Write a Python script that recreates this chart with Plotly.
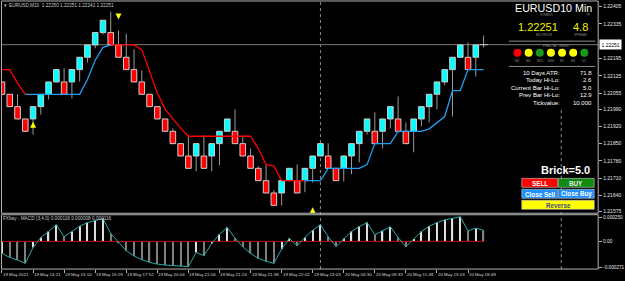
import plotly.graph_objects as go

# ---------------- data ----------------
brick_open = [1.22100, 1.22050, 1.22000, 1.21950, 1.21950, 1.22000, 1.22050, 1.22100, 1.22100, 1.22100,
              1.22150, 1.22200, 1.22250, 1.22300, 1.22300, 1.22250, 1.22200, 1.22150, 1.22100, 1.22050,
              1.22000, 1.21950, 1.21900, 1.21850, 1.21800, 1.21800, 1.21800, 1.21800, 1.21850, 1.21900,
              1.21900, 1.21850, 1.21800, 1.21750, 1.21700, 1.21650, 1.21650, 1.21700, 1.21700, 1.21700,
              1.21750, 1.21800, 1.21800, 1.21750, 1.21750, 1.21800, 1.21850, 1.21900, 1.21900, 1.21900,
              1.21950, 1.21950, 1.21900, 1.21900, 1.21950, 1.22000, 1.22050, 1.22100, 1.22150, 1.22200,
              1.22200, 1.22200, 1.22250]
brick_close = [1.22050, 1.22000, 1.21950, 1.21900, 1.22000, 1.22050, 1.22100, 1.22150, 1.22050, 1.22150,
               1.22200, 1.22250, 1.22300, 1.22350, 1.22250, 1.22200, 1.22150, 1.22100, 1.22050, 1.22000,
               1.21950, 1.21900, 1.21850, 1.21800, 1.21750, 1.21850, 1.21750, 1.21850, 1.21900, 1.21950,
               1.21850, 1.21800, 1.21750, 1.21700, 1.21650, 1.21600, 1.21700, 1.21750, 1.21650, 1.21750,
               1.21800, 1.21850, 1.21750, 1.21700, 1.21800, 1.21850, 1.21900, 1.21950, 1.21850, 1.21950,
               1.22000, 1.21900, 1.21850, 1.21950, 1.22000, 1.22050, 1.22100, 1.22150, 1.22200, 1.22250,
               1.22150, 1.22250, 1.22251]
brick_high = [1.22100, 1.22050, 1.22050, 1.21950, 1.22000, 1.22050, 1.22100, 1.22150, 1.22155, 1.22150,
              1.22200, 1.22250, 1.22300, 1.22350, 1.22385, 1.22308, 1.22296, 1.22232, 1.22147, 1.22050,
              1.22000, 1.21950, 1.21912, 1.21850, 1.21879, 1.21850, 1.21883, 1.21850, 1.21900, 1.21950,
              1.21989, 1.21883, 1.21831, 1.21758, 1.21766, 1.21661, 1.21700, 1.21750, 1.21766, 1.21750,
              1.21800, 1.21850, 1.21851, 1.21750, 1.21800, 1.21850, 1.21900, 1.21950, 1.21977, 1.21950,
              1.22000, 1.22041, 1.21936, 1.21950, 1.22000, 1.22050, 1.22100, 1.22150, 1.22200, 1.22250,
              1.22260, 1.22250, 1.22288]
brick_low = [1.22050, 1.22000, 1.21950, 1.21900, 1.21887, 1.21968, 1.22029, 1.22100, 1.22050, 1.22033,
             1.22102, 1.22179, 1.22236, 1.22292, 1.22250, 1.22200, 1.22150, 1.22100, 1.22050, 1.22000,
             1.21950, 1.21900, 1.21850, 1.21800, 1.21750, 1.21738, 1.21750, 1.21738, 1.21762, 1.21900,
             1.21850, 1.21800, 1.21750, 1.21700, 1.21650, 1.21600, 1.21600, 1.21700, 1.21650, 1.21653,
             1.21693, 1.21800, 1.21750, 1.21700, 1.21697, 1.21726, 1.21774, 1.21887, 1.21850, 1.21831,
             1.21912, 1.21900, 1.21850, 1.21815, 1.21920, 1.21936, 1.21989, 1.22086, 1.21960, 1.22200,
             1.22150, 1.22122, 1.22240]

N = None
red_stop = [1.22150, 1.22150, 1.22095, 1.22050, N, N, N, N, N, N,
            N, N, N, N, 1.22250, 1.22250, 1.22250, 1.22250, 1.22230, 1.22143,
            1.22055, 1.21990, 1.21950, 1.21913, 1.21880, 1.21880, 1.21880, 1.21880, 1.21880, 1.21880,
            1.21880, 1.21880, 1.21880, 1.21830, 1.21765, 1.21760, 1.21700, 1.21700, 1.21700, 1.21700,
            N, N, N, N, N, N, N, N, N, N,
            N, N, N, N, N, N, N, N, N, N,
            N, N, N]
blue_stop = [N, N, N, 1.22050, 1.22050, 1.22050, 1.22050, 1.22050, 1.22050, 1.22050,
             1.22050, 1.22110, 1.22188, 1.22240, 1.22250, N, N, N, N, N,
             N, N, N, N, N, N, N, N, N, N,
             N, N, N, N, N, N, N, N, N, 1.21700,
             1.21700, 1.21700, 1.21750, 1.21750, 1.21750, 1.21750, 1.21750, 1.21765, 1.21850, 1.21850,
             1.21850, 1.21900, 1.21900, 1.21900, 1.21900, 1.21910, 1.21935, 1.21960, 1.22065, 1.22065,
             1.22150, 1.22150, 1.22150]

macd = [-0.000123, -0.000165, -0.000192, -0.000226, -0.000062, 0.000041, 0.000103, 0.000172, 0.000048, 0.000103,
        0.000157, 0.000195, 0.000219, 0.000237, 0.000082, -0.000010, -0.000096, -0.000151, -0.000188, -0.000216,
        -0.000234, -0.000244, -0.000250, -0.000257, -0.000260, -0.000113, -0.000147, -0.000021, 0.000075, 0.000144,
        0.000034, -0.000055, -0.000123, -0.000175, -0.000206, -0.000226, -0.000079, 0.000031, -0.000044, 0.000041,
        0.000116, 0.000172, 0.000048, -0.000051, 0.000031, 0.000103, 0.000154, 0.000195, 0.000069, 0.000110,
        0.000151, 0.000041, -0.000055, 0.000024, 0.000103, 0.000157, 0.000195, 0.000223, 0.000240, 0.000254,
        0.000110, 0.000137, 0.000116]

time_labels = ["19 May 2021", "19 May 14:21", "19 May 15:10", "19 May 16:29", "19 May 17:52",
               "19 May 20:04", "19 May 21:06", "19 May 21:24", "19 May 21:38", "19 May 22:02",
               "19 May 23:03", "20 May 04:30", "20 May 09:33", "20 May 11:49", "20 May 15:03",
               "20 May 18:49"]
time_label_step = 4

price_ticks = [1.22405, 1.22335, 1.22195, 1.22125, 1.22055, 1.21990, 1.21920,
               1.21850, 1.21780, 1.21710, 1.21640, 1.21575]
macd_ticks = [0.000250, 0.0, -0.000271]
macd_tick_text = ["0.000250", "0.00", "-0.000271"]

bid_price = 1.22251
separator_idx = [41, 72]
up_arrow_idx = [4, 40]
up_arrow_price = [1.21939, 1.21592]
down_arrow_idx = [15]
down_arrow_price = [1.22353]

fractal_tf = ["M1", "M5", "M15", "M30", "H1", "H4", "D1"]
fractal_colors = ["#ff0000", "#ffff00", "#1a9a1a", "#ffff00", "#ffff00", "#ffff00", "#1a9a1a"]
info_labels = ["10 Days ATR:", "Today Hi-Lo:", "Current Bar Hi-Lo:", "Prev Bar Hi-Lo:", "Tickvalue:"]
info_values = ["71.8", "2.6", "5.0", "12.9", "10.000"]

title_text = "EURUSD,M10  1.22250 1.22251 1.22241 1.22251"
macd_title = "FXbay - MACD (3,4,0) 0.000116 0.000008 0.000116"

# ---------------- helpers ----------------
W, H = 625, 281
def PX(x):
    return x / W
def PY(y):
    return 1 - y / H

SANS = "Liberation Sans, Arial, sans-serif"

n = len(brick_open)
idx = list(range(n))
forming = n - 1

up_x, up_base, up_h = [], [], []
dn_x, dn_base, dn_h = [], [], []
wx, wy = [], []
for i in range(n):
    o, c, h, l = brick_open[i], brick_close[i], brick_high[i], brick_low[i]
    top, bot = max(o, c), min(o, c)
    if i == forming:
        wx += [i, i, None]
        wy += [l, h, None]
        continue
    if c > o:
        up_x.append(i); up_base.append(o); up_h.append(c - o)
    else:
        dn_x.append(i); dn_base.append(c); dn_h.append(o - c)
    if h > top + 1e-9:
        wx += [i, i, None]; wy += [top, h, None]
    if l < bot - 1e-9:
        wx += [i, i, None]; wy += [l, bot, None]

fig = go.Figure()

fig.add_trace(go.Scatter(x=wx, y=wy, mode="lines", line=dict(color="#9a9a9a", width=1),
                         xaxis="x", yaxis="y", hoverinfo="skip"))
fig.add_trace(go.Bar(x=up_x, y=up_h, base=up_base, width=0.72,
                     marker=dict(color="#00ffff", line=dict(color="#d0d0d0", width=1)),
                     xaxis="x", yaxis="y"))
fig.add_trace(go.Bar(x=dn_x, y=dn_h, base=dn_base, width=0.72,
                     marker=dict(color="#ff0000", line=dict(color="#d0d0d0", width=1)),
                     xaxis="x", yaxis="y"))
fig.add_trace(go.Scatter(x=[forming], y=[brick_close[forming]], mode="markers",
                         marker=dict(symbol="line-ew", size=6, line=dict(color="#c8c8c8", width=1)),
                         xaxis="x", yaxis="y"))
fig.add_trace(go.Scatter(x=idx, y=red_stop, mode="lines", line=dict(color="#ff0000", width=1.3),
                         connectgaps=False, xaxis="x", yaxis="y"))
fig.add_trace(go.Scatter(x=idx, y=blue_stop, mode="lines", line=dict(color="#1ea0f0", width=1.3),
                         connectgaps=False, xaxis="x", yaxis="y"))
fig.add_trace(go.Scatter(x=up_arrow_idx, y=up_arrow_price, mode="markers",
                         marker=dict(symbol="arrow-up", size=6, color="#ffff00"), xaxis="x", yaxis="y"))
fig.add_trace(go.Scatter(x=down_arrow_idx, y=down_arrow_price, mode="markers",
                         marker=dict(symbol="arrow-down", size=6, color="#ffff00"), xaxis="x", yaxis="y"))

# MACD panel
hist_colors = []
for i, v in enumerate(macd):
    prev = macd[i - 1] if i > 0 else v
    hist_colors.append("#e0e0e0" if v >= prev else "#808080")
fig.add_trace(go.Scatter(x=[0, n - 1], y=[0, 0], mode="lines", line=dict(color="#c00000", width=1),
                         xaxis="x2", yaxis="y2"))
fig.add_trace(go.Bar(x=idx, y=macd, width=0.16, marker=dict(color=hist_colors, line=dict(width=0)),
                     xaxis="x2", yaxis="y2"))
fig.add_trace(go.Scatter(x=idx, y=macd, mode="lines", line=dict(color="#2aa8a8", width=1),
                         xaxis="x2", yaxis="y2"))

# fractal trend circles on an auxiliary axis
fig.add_trace(go.Scatter(x=list(range(len(fractal_tf))), y=[0] * len(fractal_tf), mode="markers",
                         marker=dict(size=8, color=fractal_colors, line=dict(width=0)),
                         xaxis="x3", yaxis="y3"))

xr = [0, (603 - 2) / 7.83]
fig.update_layout(
    width=W, height=H, margin=dict(l=0, r=0, t=0, b=0),
    paper_bgcolor="black", plot_bgcolor="black", showlegend=False, barmode="overlay",
    xaxis=dict(domain=[PX(2), PX(603)], range=xr, visible=False),
    yaxis=dict(domain=[PY(214), PY(1)], range=[1.21568, 1.22428], side="right", anchor="x",
               tickvals=price_ticks, ticktext=[f"{p:.5f}" for p in price_ticks],
               ticks="outside", ticklen=3, tickcolor="#b4b4b4",
               tickfont=dict(family=SANS, size=5, color="#e8e8e8"),
               showgrid=False, zeroline=False, showline=False),
    xaxis2=dict(domain=[PX(2), PX(603)], range=xr, anchor="y2",
                tickvals=list(range(0, n, time_label_step)), ticks="outside", ticklen=3,
                tickcolor="#b4b4b4", showticklabels=False, showgrid=False, zeroline=False, showline=False),
    yaxis2=dict(domain=[PY(270), PY(215)], range=[-0.000285, 0.000281], side="right", anchor="x2",
                tickvals=macd_ticks, ticktext=macd_tick_text, ticks="outside", ticklen=3,
                tickcolor="#b4b4b4", tickfont=dict(family=SANS, size=4.7, color="#e8e8e8"),
                showgrid=False, zeroline=False, showline=False),
    xaxis3=dict(domain=[PX(513), PX(602)], range=[-0.775, 7.155], visible=False, anchor="y3"),
    yaxis3=dict(domain=[PY(58), PY(48)], range=[-1, 1], visible=False, anchor="x3"),
)

shapes = []
# bid line and separators
shapes.append(dict(type="line", xref="x", yref="y", x0=xr[0], x1=xr[1], y0=bid_price, y1=bid_price,
                   line=dict(color="#7a7a7a", width=1), layer="below"))
for s in separator_idx:
    shapes.append(dict(type="line", xref="x", yref="paper", x0=s, x1=s, y0=PY(270), y1=PY(1),
                       line=dict(color="#8a8a8a", width=1, dash="dot"), layer="below"))
# info panel background (covers bid line / separator behind panel)
shapes.append(dict(type="rect", xref="paper", yref="paper", x0=PX(513), x1=PX(602.5), y0=PY(108), y1=PY(2),
                   fillcolor="black", line=dict(width=0), layer="below"))
shapes.append(dict(type="line", xref="paper", yref="paper", x0=PX(513), x1=PX(600), y0=PY(41.3), y1=PY(41.3),
                   line=dict(color="#8a8a8a", width=1), layer="below"))
shapes.append(dict(type="line", xref="paper", yref="paper", x0=PX(513), x1=PX(600), y0=PY(66.7), y1=PY(66.7),
                   line=dict(color="#8a8a8a", width=1), layer="below"))
# buttons
buttons = [
    ("SELL", 526, 562, 179, 188, "#ff0000", "#ffffff"),
    ("BUY", 563, 599, 179, 188, "#108a10", "#e8e8e8"),
    ("Close Sell", 526, 562, 190, 199, "#1e90ff", "#ffffff"),
    ("Close Buy", 563, 599, 190, 199, "#1e90ff", "#ffffff"),
    ("Reverse", 526, 599, 201, 210, "#ffff00", "#4a4a80"),
]
for (t, x0, x1, y0, y1, fc, tc) in buttons:
    shapes.append(dict(type="rect", xref="paper", yref="paper", x0=PX(x0), x1=PX(x1), y0=PY(y1), y1=PY(y0),
                       fillcolor=fc, line=dict(color="#c8c8c8", width=0.6), layer="above"))
# panel borders
shapes.append(dict(type="rect", xref="paper", yref="paper", x0=PX(1.5), x1=PX(603), y0=PY(214), y1=PY(1),
                   line=dict(color="#b4b4b4", width=1), layer="above"))
shapes.append(dict(type="rect", xref="paper", yref="paper", x0=PX(1.5), x1=PX(603), y0=PY(270), y1=PY(215.5),
                   line=dict(color="#b4b4b4", width=1), layer="above"))

annotations = []
def txt(x, y, s, size, color, anchor="left", family=SANS, bold=False, **kw):
    if bold:
        s = "<b>" + s + "</b>"
    d = dict(xref="paper", yref="paper", x=PX(x), y=PY(y), text=s, showarrow=False,
             xanchor=anchor, yanchor="middle", font=dict(family=family, size=size, color=color),
             borderpad=0)
    d.update(kw)
    annotations.append(d)

# titles
txt(2.5, 5.5, "▼", 4.5, "#c0c0c0")
txt(8, 5.5, title_text, 4.7, "#c8c8c8")
txt(2.5, 219.5, macd_title, 4.7, "#c8c8c8")

# current price box
annotations.append(dict(xref="paper", yref="y", x=PX(604), y=bid_price, text=f"{bid_price:.5f}",
                        showarrow=False, xanchor="left", yanchor="middle", bgcolor="#ffffff",
                        font=dict(family=SANS, size=5, color="#000000"), borderpad=1.5))

# time labels
for k, lab in enumerate(time_labels):
    annotations.append(dict(xref="x2", yref="paper", x=k * time_label_step, y=PY(275.5), text=lab,
                            showarrow=False, xanchor="left", yanchor="middle", xshift=-1,
                            font=dict(family=SANS, size=4.4, color="#d8d8d8")))

# info panel
txt(598, 8.5, "EURUSD10 Min", 10.7, "#ffffff", anchor="right")
txt(551, 15.5, "SYMBOL", 3.2, "#8a8a8a", anchor="center")
txt(593, 15.5, "TF", 3.2, "#8a8a8a", anchor="center")
txt(542, 27, "1.22251", 11, "#f0f000", anchor="center")
txt(585, 27, "4.8", 11, "#f0f000", anchor="center")
txt(548, 35.5, "BID PRICE", 3.2, "#8a8a8a", anchor="center")
txt(586, 35.5, "SPREAD", 3.2, "#8a8a8a", anchor="center")
txt(561, 46.5, "FRACTAL TREND", 3.2, "#8a8a8a", anchor="center")
for k, tf in enumerate(fractal_tf):
    annotations.append(dict(xref="x3", yref="paper", x=k, y=PY(61.5), text=tf, showarrow=False,
                            xanchor="center", yanchor="middle",
                            font=dict(family=SANS, size=3.2, color="#8a8a8a")))
row_y = [73, 80.5, 88, 95.5, 103]
for yy, lab, val in zip(row_y, info_labels, info_values):
    txt(566, yy, lab, 6, "#ffffff", anchor="right")
    txt(597.5, yy, val, 6, "#ffffff", anchor="right")

txt(570, 171, "Brick=5.0", 11, "#ffffff", anchor="center", bold=True)
for (t, x0, x1, y0, y1, fc, tc) in buttons:
    txt((x0 + x1) / 2, (y0 + y1) / 2 + 0.3, t, 6.3, tc, anchor="center", bold=True)

fig.update_layout(shapes=shapes, annotations=annotations)
fig.write_html("out.html")
